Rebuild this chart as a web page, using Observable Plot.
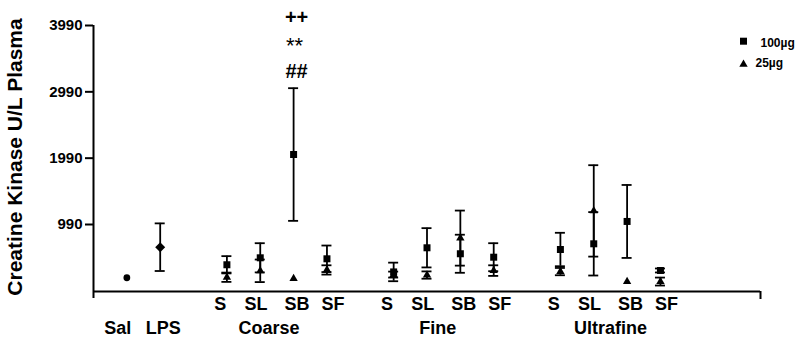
<!DOCTYPE html>
<html>
<head>
<meta charset="utf-8">
<script src="https://cdn.jsdelivr.net/npm/d3@7"></script>
<script src="https://cdn.jsdelivr.net/npm/@observablehq/plot@0.6"></script>
<style>
  html, body { margin: 0; padding: 0; background: #fff; }
  g[aria-label="y tick labels"] text { letter-spacing: 1.5px; }
  g[aria-label="dose labels"] text { letter-spacing: 1px; }
</style>
</head>
<body>
<div id="chart"></div>
<script>
// Creatine kinase in plasma (U/L), mean ± SEM
const controls = ["Sal", "LPS"];
const controlMean = [187, 648];
const controlSem = [0, 359];

const groups = ["Coarse", "Fine", "Ultrafine"];
const treatments = ["S", "SL", "SB", "SF"];
const doses = ["100µg", "25µg"];

// per group, in treatment order S, SL, SB, SF
const mean100 = [383, 488, 2045, 473,   275, 639, 549, 497,   613, 699, 1036, 297];
const sem100  = [130, 220, 1000, 200,   140, 296, 287, 211,   252, 478,  550,  30];
const mean25  = [195, 292, 175, 305,    235, 228, 785, 295,   280, 1195, 130, 130];
const sem25   = [70, 170, 0, 70,        45, 55, 415, 80,      55, 689,   0,   60];

const yTicks = [990, 1990, 2990, 3990];
const yTitle = "Creatine Kinase U/L Plasma";
const significance = ["++", "**", "##"];

// ---- layout ----
const xDomain = [-1, 19];
const yDomain = [-20, 3990];
const slotOf = (g, t) => 3 + 5 * g + t;           // controls occupy slots 0 and 1
const groupCenter = g => 3 + 5 * g + 1.5;
const treatmentLabelOffset = [-1.7, -0.63, 0.6, 1.68];
const controlLabelDx = [-9, 3];
const groupLabelDx = [-8, -6, 0];

const rows = [];
groups.forEach((g, gi) => treatments.forEach((t, ti) => {
  const k = gi * treatments.length + ti;
  rows.push({slot: slotOf(gi, ti), dose: doses[0], mean: mean100[k], sem: sem100[k]});
  rows.push({slot: slotOf(gi, ti), dose: doses[1], mean: mean25[k], sem: sem25[k]});
}));
const ctrlRows = controls.map((c, i) => ({slot: i, label: c, mean: controlMean[i], sem: controlSem[i]}));
const bars = [...rows, ...ctrlRows].filter(d => d.sem > 0);

const treatmentLabels = [];
groups.forEach((g, gi) => treatments.forEach((t, ti) =>
  treatmentLabels.push({x: groupCenter(gi) + treatmentLabelOffset[ti], text: t})));

// the starred bar: Coarse SB, 100µg
const starred = rows.find(d => d.slot === slotOf(0, 2) && d.dose === doses[0]);
const starTop = [{slot: starred.slot, y: starred.mean + starred.sem}];

const sw = 1.8;
const bold = "bold";

const chart = Plot.plot({
  width: 806,
  height: 339,
  marginLeft: 93,
  marginRight: 46,
  marginTop: 25,
  marginBottom: 48,
  style: {fontFamily: "'Liberation Sans', Arial, sans-serif", color: "#000", background: "#fff", overflow: "visible"},
  x: {domain: xDomain, axis: null},
  y: {domain: yDomain, axis: null},
  marks: [
    // axes
    Plot.ruleX([xDomain[0]], {y1: yDomain[1], y2: yDomain[0], insetBottom: -7, strokeWidth: 2}),
    Plot.ruleY([yDomain[0]], {x1: xDomain[0], x2: xDomain[1], strokeWidth: 2}),
    Plot.ruleX([xDomain[1]], {y1: yDomain[0], y2: yDomain[0], insetBottom: -8, strokeWidth: 2}),
    Plot.ruleY(yTicks, {y: d => d, x1: xDomain[0], x2: xDomain[0], insetLeft: -8, strokeWidth: 2}),
    Plot.text(yTicks, {x: xDomain[0], y: d => d, text: d => String(d), dx: -11, textAnchor: "end",
      fontSize: 15, fontWeight: bold, ariaLabel: "y tick labels"}),
    Plot.text([yTitle], {frameAnchor: "left", text: d => d, rotate: -90, dx: -78, dy: -1.5,
      textAnchor: "middle", fontSize: 21, fontWeight: bold}),

    // error bars
    Plot.ruleX(bars, {x: "slot", y1: d => d.mean + d.sem, y2: d => d.mean - d.sem, strokeWidth: sw}),
    Plot.ruleY(bars, {y: d => d.mean + d.sem, x1: "slot", x2: "slot", insetLeft: -5, insetRight: -5, strokeWidth: sw}),
    Plot.ruleY(bars, {y: d => d.mean - d.sem, x1: "slot", x2: "slot", insetLeft: -5, insetRight: -5, strokeWidth: sw}),

    // points
    Plot.dot(ctrlRows.slice(0, 1), {x: "slot", y: "mean", symbol: "circle", r: 3.4, fill: "#000"}),
    Plot.dot(ctrlRows.slice(1, 2), {x: "slot", y: "mean", symbol: "diamond2", r: 4.5, fill: "#000"}),
    Plot.dot(rows.filter(d => d.dose === doses[0]), {x: "slot", y: "mean", symbol: "square", r: 3.95, fill: "#000"}),
    Plot.dot(rows.filter(d => d.dose === doses[1]), {x: "slot", y: "mean", symbol: "triangle", r: 3.1, fill: "#000"}),

    // significance marks above Coarse SB
    Plot.text(starTop, {x: "slot", y: "y", text: () => significance[0], dx: 3, dy: -70.3, fontSize: 20, fontWeight: bold}),
    Plot.text(starTop, {x: "slot", y: "y", text: () => significance[1], dx: 1, dy: -42.6, fontSize: 22}),
    Plot.text(starTop, {x: "slot", y: "y", text: () => significance[2], dx: 3, dy: -16.2, fontSize: 20, fontWeight: bold}),

    // category labels
    Plot.text(treatmentLabels, {x: "x", y: yDomain[0], text: "text", dy: 13, fontSize: 18, fontWeight: bold}),
    ...controls.map((c, i) => Plot.text([c], {x: i, y: yDomain[0], text: d => d, dx: controlLabelDx[i], dy: 37, fontSize: 18, fontWeight: bold})),
    ...groups.map((g, gi) => Plot.text([g], {x: groupCenter(gi), y: yDomain[0], text: d => d, dx: groupLabelDx[gi], dy: 37, fontSize: 18, fontWeight: bold})),

    // legend
    Plot.dot([doses[0]], {x: xDomain[1], y: yDomain[1], dx: -17, dy: 15.7, symbol: "square", r: 3.95, fill: "#000"}),
    Plot.dot([doses[1]], {x: xDomain[1], y: yDomain[1], dx: -17, dy: 38.9, symbol: "triangle", r: 3.1, fill: "#000"}),
    Plot.text([doses[0]], {x: xDomain[1], y: yDomain[1], text: d => d, dx: 0, dy: 17.2, textAnchor: "start", fontSize: 12, fontWeight: bold, ariaLabel: "dose labels"}),
    Plot.text([doses[1]], {x: xDomain[1], y: yDomain[1], text: d => d, dx: -5, dy: 38, textAnchor: "start", fontSize: 12, fontWeight: bold, ariaLabel: "dose labels"})
  ]
});

document.getElementById("chart").appendChild(chart);
</script>
</body>
</html>
